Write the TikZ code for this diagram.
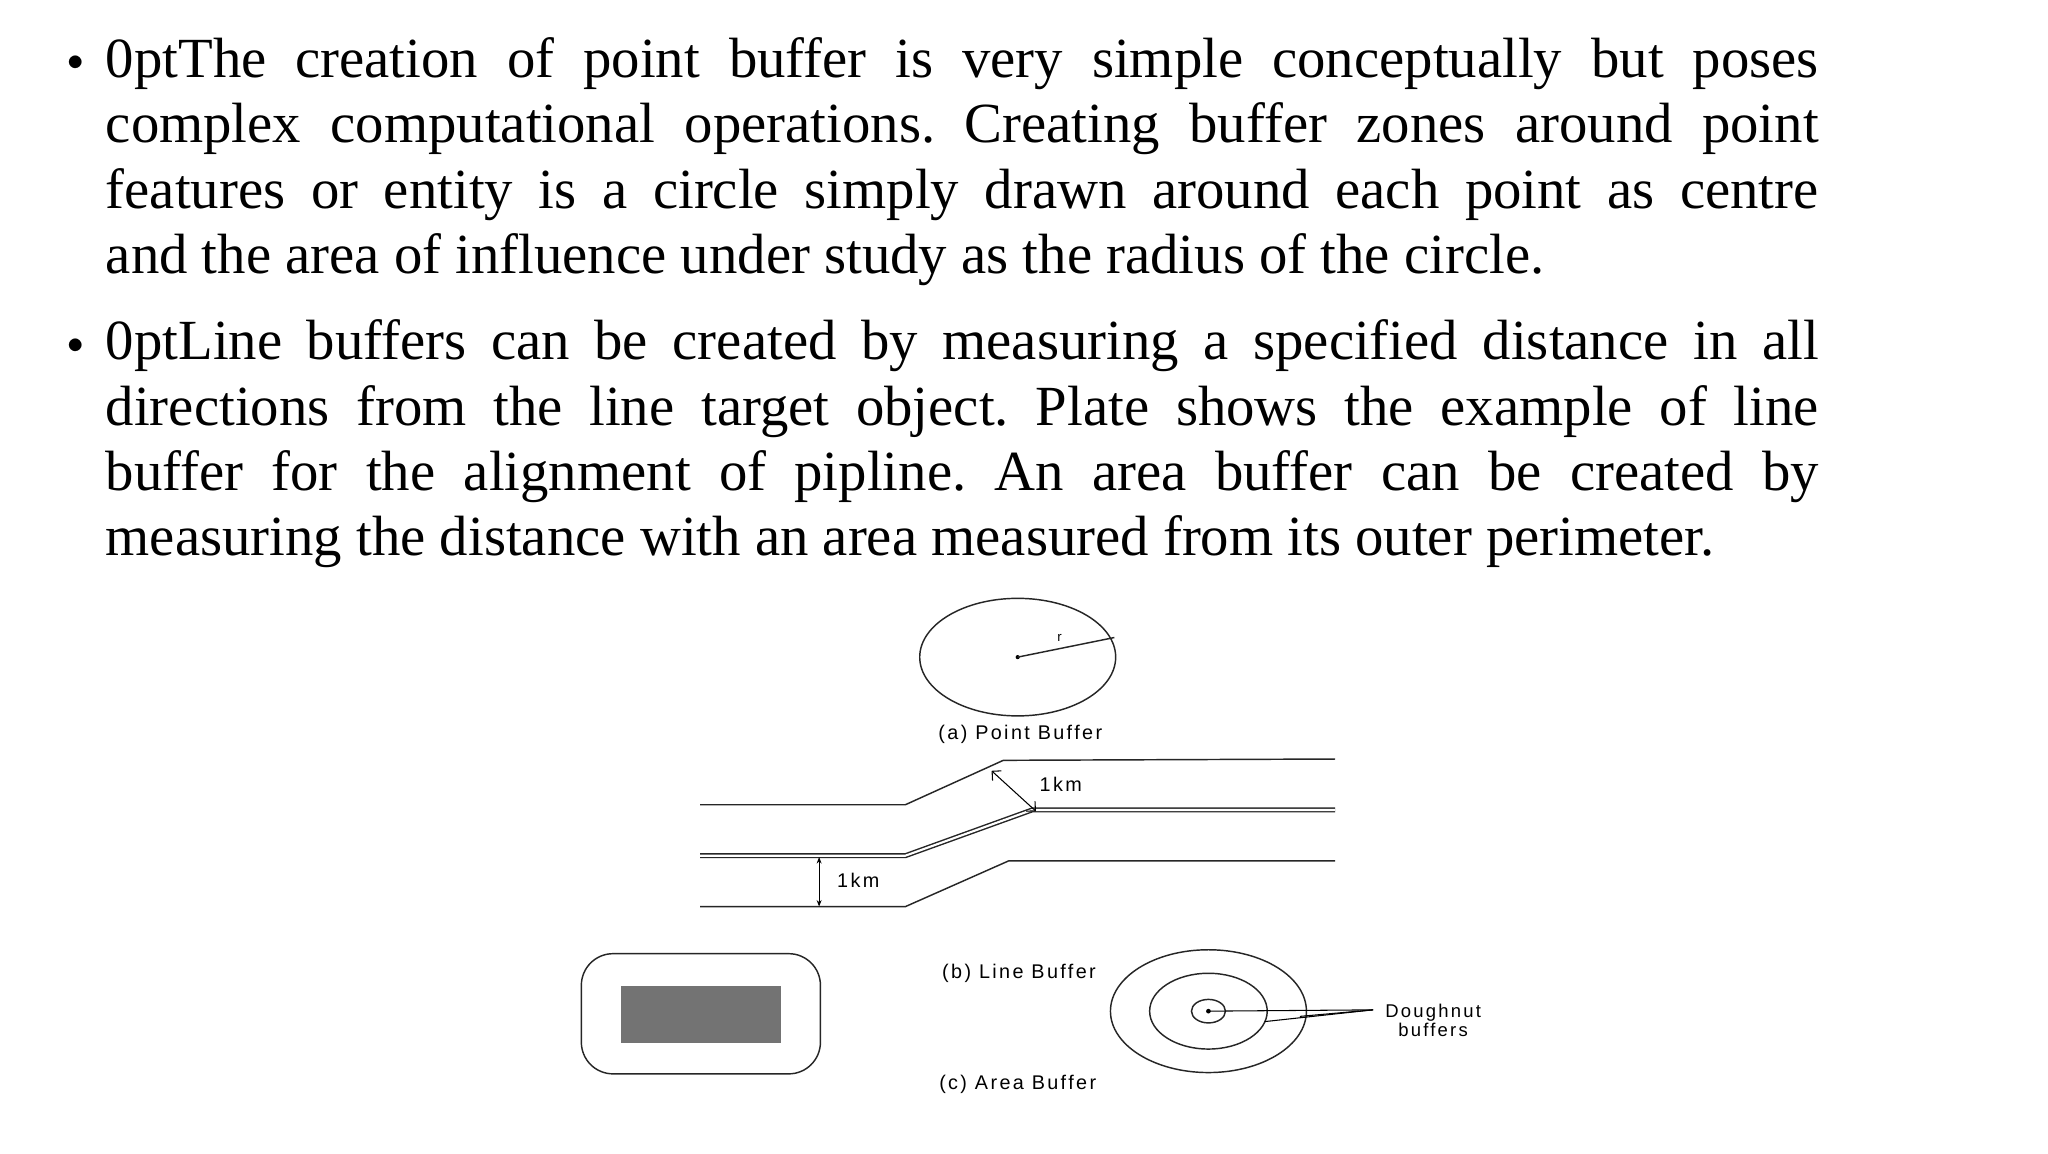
\documentclass[tikz,border=0pt]{standalone}
\usepackage{fontspec}
\setmainfont{Liberation Serif}
\newfontfamily\lab[LetterSpace=12]{Liberation Sans}
\usetikzlibrary{arrows.meta}
\begin{document}
\begin{tikzpicture}[x=1pt,y=-1pt,
  ln/.style={line width=1.1pt,black!85},
  lab/.style={font=\lab\fontsize{15}{17}\selectfont,inner sep=0pt},
  para/.style={anchor=north west,text width=1298pt,align=justify,inner sep=0pt,font=\fontsize{43}{49.6}\selectfont\frenchspacing\hyphenpenalty=10000},
  bul/.style={font=\fontsize{30}{30}\selectfont,inner sep=0pt}]
\useasboundingbox[fill=white] (0,0) rectangle (1552,874);
\node[bul] (b1) at (57,48) {$\bullet$};
\node[para] (p1) at (80,28) {The creation of point buffer is very simple conceptually but poses\linebreak complex computational operations. Creating buffer zones around point\linebreak features or entity is a circle simply drawn around each point as centre\linebreak and the area of influence under study as the radius of the circle.};
\node[bul] (b2) at (57,262) {$\bullet$};
\node[para] (p2) at (80,242) {Line buffers can be created by measuring a specified distance in all\linebreak directions from the line target object. Plate shows the example of line\linebreak buffer for the alignment of pipline. An area buffer can be created by\linebreak measuring the distance with an area measured from its outer perimeter.\parfillskip=0pt};
\begin{scope}[scale=0.99]
% point buffer
\coordinate (c) at (779,503);
\draw[ln] (c) ellipse [x radius=75, y radius=45];
\fill (c) circle (1.6);
\coordinate (re) at (853,488);
\draw[ln] (c) -- (re);
\node[lab,font=\lab\fontsize{10}{10}\selectfont] (r) at (811,488) {r};
\node[lab] (la) at (781,562) {(a) Point Buffer};
% line buffer
\draw[ln] (536,616) -- (693,616) -- (768,582) -- (1022,581);
\draw[ln,double,double distance=1.6pt] (536,655) -- (693,655) -- (790,620) -- (1022,620);
\draw[ln] (536,694) -- (693,694) -- (772,659) -- (1022,659);
\coordinate (a1) at (759,590); \coordinate (a2) at (793,621);
\draw[line width=0.8pt,{Straight Barb[length=5pt]}-{Straight Barb[length=5pt]}] (a1) -- (a2);
\node[lab] (k1) at (812,600) {1km};
\coordinate (v1) at (627,656); \coordinate (v2) at (627,694);
\draw[line width=0.8pt,{Stealth[length=5pt]}-{Stealth[length=5pt]}] (v1) -- (v2);
\node[lab] (k2) at (657,674) {1km};
\node[lab] (lb) at (780,745) {(b) Line Buffer};
% area buffer
\draw[ln,rounded corners=24pt] (445,730) rectangle (628,822);
\fill[black!55] (475,755) rectangle (598,798);
\node[lab] (lc) at (779,830) {(c) Area Buffer};
% doughnut
\coordinate (d) at (925,774);
\draw[ln] (d) ellipse [x radius=75, y radius=47];
\draw[ln] (d) ellipse [x radius=45, y radius=29];
\draw[ln] (d) ellipse [x radius=13, y radius=9];
\fill (d) circle (1.8);
\node[lab,align=center,font=\lab\fontsize{14}{15}\selectfont] (dn) at (1097,781) {Doughnut\\buffers};
\coordinate (m) at (1051,773);
\draw[line width=0.8pt] (d) -- (m);
\draw[line width=0.8pt] (968,782) -- (m);
\draw[line width=0.8pt] (995,778) -- (m);
\end{scope}
\end{tikzpicture}
\end{document}
